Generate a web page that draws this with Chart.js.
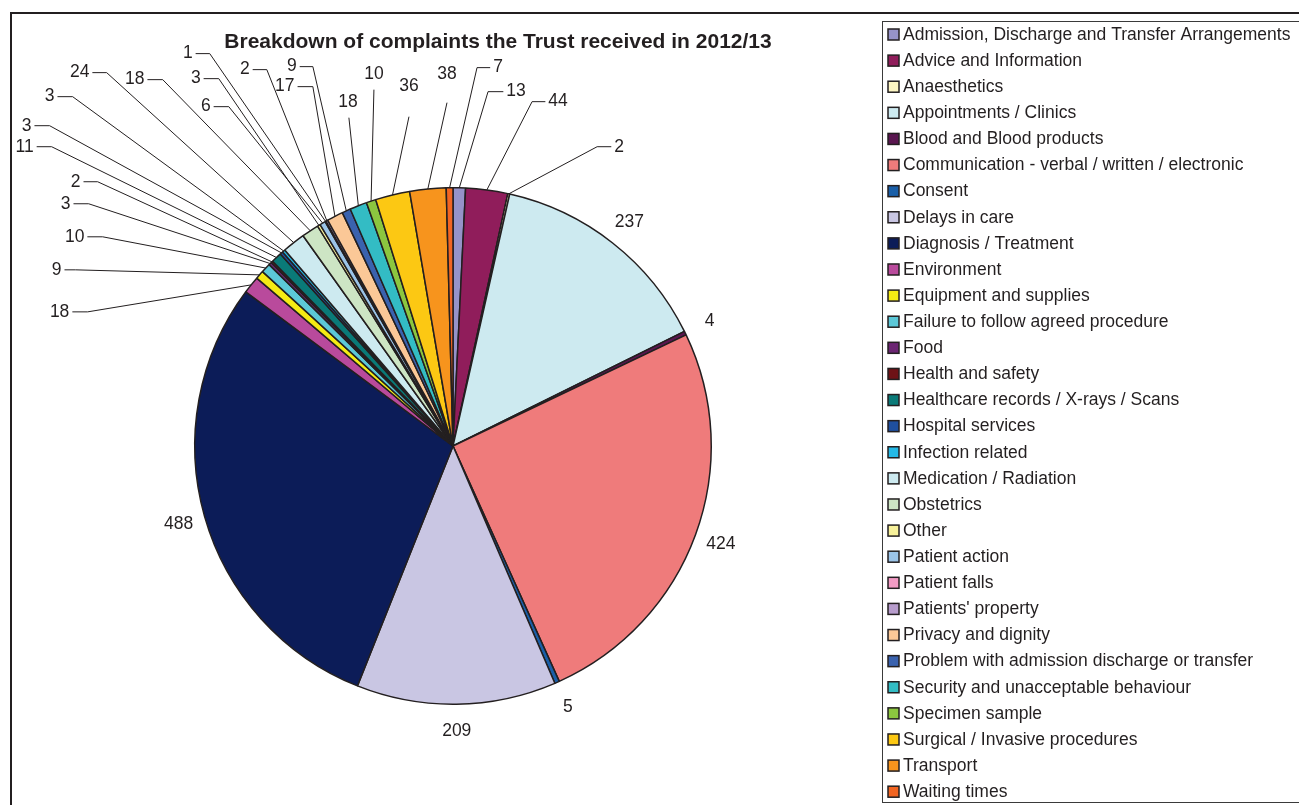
<!DOCTYPE html>
<html>
<head>
<meta charset="utf-8">
<script src="https://cdn.jsdelivr.net/npm/chart.js@4/dist/chart.umd.min.js"></script>
<style>
  html, body { margin: 0; padding: 0; background: #ffffff; }
  #wrap { width: 1299px; height: 805px; position: relative; }
</style>
</head>
<body>
<div id="wrap"><canvas id="c" width="1299" height="805"></canvas></div>
<script>
// ---- data ----
const title = "Breakdown of complaints the Trust received in 2012/13";
const categories = [
  "Admission, Discharge and Transfer Arrangements",
  "Advice and Information",
  "Anaesthetics",
  "Appointments / Clinics",
  "Blood and Blood products",
  "Communication - verbal / written / electronic",
  "Consent",
  "Delays in care",
  "Diagnosis / Treatment",
  "Environment",
  "Equipment and supplies",
  "Failure to follow agreed procedure",
  "Food",
  "Health and safety",
  "Healthcare records / X-rays / Scans",
  "Hospital services",
  "Infection related",
  "Medication / Radiation",
  "Obstetrics",
  "Other",
  "Patient action",
  "Patient falls",
  "Patients' property",
  "Privacy and dignity",
  "Problem with admission discharge or transfer",
  "Security and unacceptable behaviour",
  "Specimen sample",
  "Surgical / Invasive procedures",
  "Transport",
  "Waiting times"
];
const complaints = [13, 44, 2, 237, 4, 424, 5, 209, 488, 18, 9, 10, 3, 2, 11, 3, 3, 24, 18, 3, 6, 1, 2, 17, 9, 18, 10, 36, 38, 7];

// ---- styles ----
const sliceColors = [
  "#9693c9", "#901d5b", "#fdf6c3", "#cdeaf0", "#5a1650", "#ef7b7b",
  "#1a5fa8", "#c9c6e3", "#0c1c58", "#b94a9c", "#f5eb14", "#5cc8d8",
  "#6b2572", "#6e1216", "#0a7a78", "#1f4f9e", "#25b9e6", "#cdeaf0",
  "#cde5c4", "#f7f19a", "#9bc4e8", "#f29bc4", "#b79ccc", "#fbc897",
  "#3a62ae", "#33bcc4", "#8cc63f", "#fcc813", "#f7941d", "#f26522"
];
const ink = "#231f20";
const fontFam = "'Liberation Sans', Arial, Helvetica, sans-serif";

// callout layout (reference pie centre 453,446, radius 258): [textX, textY, elbowX, elbowY, side]
// null => label placed directly outside the slice
const calloutLayout = [
  [516, 92, 488, 92, "R"],
  [558, 102, 532, 102, "R"],
  [619, 147, 597, 147, "R"],
  null, null, null, null, null, null,
  [60, 312, 88, 312, "L"],
  [57, 270, 76, 270, "L"],
  [75, 237, 103, 237, "L"],
  [66, 204, 89, 204, "L"],
  [76, 182, 98, 182, "L"],
  [25, 147, 52, 147, "L"],
  [27, 126, 50, 126, "L"],
  [50, 97, 73, 97, "L"],
  [80, 73, 107, 73, "L"],
  [135, 80, 163, 80, "L"],
  [196, 79, 219, 79, "L"],
  [206, 107, 229, 107, "L"],
  [188, 54, 210, 54, "L"],
  [245, 70, 267, 70, "L"],
  [285, 87, 313, 87, "L"],
  [292, 67, 313, 67, "L"],
  [348, 103, 349, 118, "T"],
  [374, 75, 374, 90, "T"],
  [409, 87, 409, 117, "T"],
  [447, 75, 447, 103, "T"],
  [498, 68, 477, 68, "R"]
];
const REF_CX = 453, REF_CY = 446, REF_R = 258;

const decorPlugin = {
  id: "decor",
  beforeDraw(chart) {
    const ctx = chart.ctx;
    ctx.save();
    ctx.fillStyle = "#ffffff";
    ctx.fillRect(0, 0, chart.width, chart.height);
    // outer frame (top & left visible)
    ctx.strokeStyle = ink;
    ctx.lineWidth = 2;
    ctx.beginPath();
    ctx.moveTo(11, 810);
    ctx.lineTo(11, 13);
    ctx.lineTo(1305, 13);
    ctx.stroke();
    // title
    ctx.fillStyle = ink;
    ctx.font = "bold 21px " + fontFam;
    ctx.textAlign = "center";
    ctx.textBaseline = "middle";
    ctx.fillText(title, 498, 42);
    // legend box
    ctx.lineWidth = 1;
    ctx.strokeStyle = "#3a3a3a";
    ctx.strokeRect(882.5, 21.5, 430, 781);
    ctx.font = "17.5px " + fontFam;
    ctx.textAlign = "left";
    const rowH = 26.11;
    categories.forEach((name, i) => {
      const cy = 34.5 + i * rowH;
      ctx.fillStyle = sliceColors[i];
      ctx.fillRect(888, cy - 5.5, 11, 11);
      ctx.strokeStyle = ink;
      ctx.lineWidth = 1.5;
      ctx.strokeRect(888, cy - 5.5, 11, 11);
      ctx.fillStyle = ink;
      ctx.fillText(name, 903, cy + 0.5);
    });
    ctx.restore();
  },
  afterDatasetsDraw(chart) {
    const ctx = chart.ctx;
    const meta = chart.getDatasetMeta(0);
    ctx.save();
    ctx.font = "17.5px " + fontFam;
    ctx.fillStyle = ink;
    ctx.strokeStyle = ink;
    ctx.lineWidth = 1;
    ctx.textBaseline = "middle";
    meta.data.forEach((arc, i) => {
      const p = arc.getProps(["x", "y", "startAngle", "endAngle", "outerRadius"], true);
      const mid = (p.startAngle + p.endAngle) / 2;
      const R = p.outerRadius;
      const edgeX = p.x + Math.cos(mid) * R;
      const edgeY = p.y + Math.sin(mid) * R;
      const txt = String(complaints[i]);
      const lay = calloutLayout[i];
      if (!lay) {
        const r = R + 27;
        ctx.textAlign = "center";
        ctx.fillText(txt, p.x + Math.cos(mid) * r, p.y + Math.sin(mid) * r);
        return;
      }
      const s = R / REF_R;
      const tx = p.x + (lay[0] - REF_CX) * s;
      const ty = p.y + (lay[1] - REF_CY) * s;
      const ex = p.x + (lay[2] - REF_CX) * s;
      const ey = p.y + (lay[3] - REF_CY) * s;
      const w = ctx.measureText(txt).width;
      ctx.textAlign = "center";
      ctx.fillText(txt, tx, ty);
      ctx.beginPath();
      if (lay[4] === "L") {
        ctx.moveTo(tx + w / 2 + 3, ey);
        ctx.lineTo(ex, ey);
      } else if (lay[4] === "R") {
        ctx.moveTo(tx - w / 2 - 3, ey);
        ctx.lineTo(ex, ey);
      } else {
        ctx.moveTo(ex, ey);
      }
      ctx.lineTo(edgeX, edgeY);
      ctx.stroke();
    });
    ctx.restore();
  }
};

new Chart(document.getElementById("c"), {
  type: "pie",
  data: {
    labels: categories,
    datasets: [{
      data: complaints,
      backgroundColor: sliceColors,
      borderColor: ink,
      borderWidth: 1.5
    }]
  },
  options: {
    responsive: false,
    animation: false,
    rotation: 0,
    layout: { padding: { left: 194, right: 587, top: 187, bottom: 100 } },
    plugins: {
      legend: { display: false },
      title: { display: false },
      tooltip: { enabled: false }
    }
  },
  plugins: [decorPlugin]
});
</script>
</body>
</html>
